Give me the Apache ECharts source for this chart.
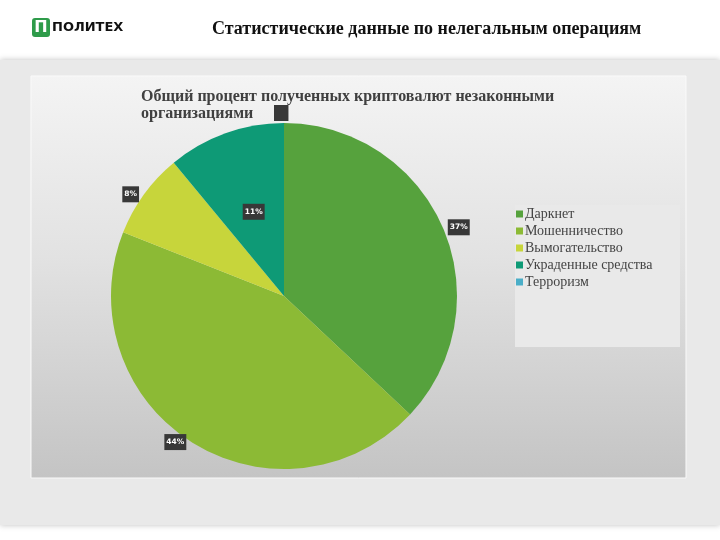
<!DOCTYPE html>
<html>
<head>
<meta charset="utf-8">
<script src="https://cdn.jsdelivr.net/npm/echarts@6/dist/echarts.min.js"></script>
<style>html,body{margin:0;padding:0;background:#fff;}#c{width:720px;height:540px;}</style>
</head>
<body>
<div id="c"></div>
<script>
const categories = ['Даркнет', 'Мошенничество', 'Вымогательство', 'Украденные средства', 'Терроризм'];
const values = [37, 44, 8, 11, 0];
const colors = ['#56a23d', '#8cba35', '#c7d53b', '#0e9a76', '#4aaec8'];
const pageTitle = 'Статистические данные по нелегальным операциям';
const chartTitle = 'Общий процент полученных криптовалют незаконными\nорганизациями';

const chart = echarts.init(document.getElementById('c'), null, {renderer: 'canvas'});
const data = categories.map((n, i) => {
  const item = {name: n, value: values[i], itemStyle: {color: colors[i]}};
  if (n === 'Украденные средства') item.label = {position: 'inside'};
  if (values[i] === 0) item.label = {offset: [-15, -10]};
  return item;
});
chart.setOption({
  animation: false,
  title: [
    {text: pageTitle, left: 212, top: 20, padding: 0,
     textStyle: {fontFamily: 'Liberation Serif', fontWeight: 'bold', fontSize: 18, color: '#111'}},
    {text: chartTitle, left: 141, top: 88, padding: 0,
     textStyle: {fontFamily: 'Liberation Serif', fontWeight: 'bold', fontSize: 16, lineHeight: 17, color: '#404040'}}
  ],
  graphic: [
    {type: 'rect', shape: {x: 0, y: 60, width: 720, height: 465}, style: {fill: '#e9e9e9', shadowBlur: 6, shadowColor: 'rgba(0,0,0,0.25)'}, z: -10},
    {type: 'rect', shape: {x: 31, y: 76, width: 655, height: 402},
     style: {fill: new echarts.graphic.LinearGradient(0, 0, 0, 1, [{offset: 0, color: '#f4f4f4'}, {offset: 0.45, color: '#e2e2e2'}, {offset: 1, color: '#c4c4c4'}]), stroke: '#fafafa', lineWidth: 1}, z: -9},
    {type: 'rect', shape: {x: 515, y: 205, width: 165, height: 142}, style: {fill: '#e9e9e9'}, z: -8},
    {type: 'rect', shape: {x: 32, y: 18, width: 18, height: 19, r: 3}, style: {fill: '#2e9b4a'}, z: 1},
    {type: 'text', x: 41, y: 28, style: {text: 'П', fill: '#fff', font: 'bold 16px "DejaVu Sans"', align: 'center', verticalAlign: 'middle'}, z: 2},
    {type: 'text', x: 52, y: 28, style: {text: 'ПОЛИТЕХ', fill: '#111', font: 'bold 13px "DejaVu Sans"', align: 'left', verticalAlign: 'middle'}, z: 2}
  ],
  legend: {
    orient: 'vertical', left: 516, top: 207, padding: 0,
    itemWidth: 7, itemHeight: 7, itemGap: 3, icon: 'rect',
    data: categories,
    textStyle: {fontFamily: 'Liberation Serif', fontSize: 14, color: '#444', padding: [0, 0, 0, -3]}
  },
  series: [{
    type: 'pie',
    center: [284, 296],
    radius: [0, 173],
    startAngle: 90,
    clockwise: true,
    data: data,
    label: {
      show: true, position: 'outside', distance: 3,
      formatter: p => p.value > 0 ? p.percent.toFixed(0) + '%' : '    ',
      backgroundColor: '#383838', color: '#fff',
      fontFamily: 'DejaVu Sans', fontWeight: 'bold', fontSize: 7.5,
      padding: [4, 2, 4, 2]
    },
    labelLine: {show: false, length: 0, length2: 0},
    emphasis: {disabled: true}
  }]
});
</script>
</body>
</html>
